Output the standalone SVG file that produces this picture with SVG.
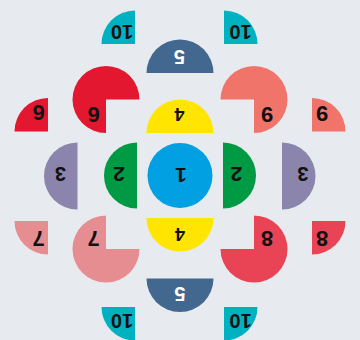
<svg xmlns="http://www.w3.org/2000/svg" width="360" height="340" viewBox="0 0 360 340">
<style>
text{font-family:"Liberation Sans",Arial,sans-serif;font-weight:bold;text-anchor:middle;fill:#111}
.w{fill:#fff}
.blue{fill:#00a0e3}.green{fill:#009a44}.yellow{fill:#ffe500}.purple{fill:#8b85ad}
.slate{fill:#436890}.teal{fill:#00b1c1}.red{fill:#e3172f}.salmon{fill:#f07469}
.pink{fill:#e68d92}.red8{fill:#e94456}
</style>
<rect width="360" height="340" fill="#e7eaee"/>
<g id="connectors"/>
<g id="n1"><circle class="blue" cx="180" cy="175.5" r="32.5"/><text transform="translate(181,175.5) rotate(180)" y="7.6" font-size="21">1</text></g>
<g id="n2-left"><path class="green" d="M137,142.5 A33,33 0 0 0 137,208.5 Z"/><text transform="translate(119,174) rotate(180)" y="7.5" font-size="21">2</text></g>
<g id="n2-right"><path class="green" d="M223,142.5 A33,33 0 0 1 223,208.5 Z"/><text transform="translate(236.5,174) rotate(180)" y="7.5" font-size="21">2</text></g>
<g id="n3-left"><path class="purple" d="M77.5,142.5 A33.5,33.5 0 0 0 77.5,209.5 Z"/><text transform="translate(60.5,174) rotate(180)" y="7.2" font-size="20">3</text></g>
<g id="n3-right"><path class="purple" d="M282,142.5 A33.5,33.5 0 0 1 282,209.5 Z"/><text transform="translate(303,174) rotate(180)" y="7.2" font-size="20">3</text></g>
<g id="n4-top"><path class="yellow" d="M146.5,133 A33.5,33.5 0 0 1 213.5,133 Z"/><text transform="translate(179.5,114) rotate(180)" y="6.5" font-size="18">4</text></g>
<g id="n4-bottom"><path class="yellow" d="M146.5,218 A33.5,33.5 0 0 0 213.5,218 Z"/><text transform="translate(180,234) rotate(180)" y="6.5" font-size="18">4</text></g>
<g id="n5-top"><path class="slate" d="M146.5,73 A33.5,33.5 0 0 1 213.5,73 Z"/><text class="w" transform="translate(179.5,57.5) rotate(180)" y="7.2" font-size="20">5</text></g>
<g id="n5-bottom"><path class="slate" d="M146.5,278.5 A33.5,33.5 0 0 0 213.5,278.5 Z"/><text class="w" transform="translate(180,294) rotate(180)" y="7.2" font-size="20">5</text></g>
<g id="n6-big"><path class="red" d="M106,99.5 L106,133 A33.5,33.5 0 1 1 139.5,99.5 Z"/><text transform="translate(93.5,115) rotate(180)" y="8" font-size="22">6</text></g>
<g id="n6-small"><path class="red" d="M48,131.5 L14.5,131.5 A33.5,33.5 0 0 1 48,98 Z"/><text transform="translate(38.5,113) rotate(180)" y="8" font-size="22">6</text></g>
<g id="n9-big"><path class="salmon" d="M254,99.5 L220.5,99.5 A33.5,33.5 0 1 1 254,133 Z"/><text transform="translate(267,115) rotate(180)" y="8" font-size="22">9</text></g>
<g id="n9-small"><path class="salmon" d="M312,131.5 L312,98 A33.5,33.5 0 0 1 345.5,131.5 Z"/><text transform="translate(322,114) rotate(180)" y="8" font-size="22">9</text></g>
<g id="n7-big"><path class="pink" d="M106,249 L139.5,249 A33.5,33.5 0 1 1 106,215.5 Z"/><text transform="translate(93.5,239) rotate(180)" y="8" font-size="22">7</text></g>
<g id="n7-small"><path class="pink" d="M48,221 L48,254.5 A33.5,33.5 0 0 1 14.5,221 Z"/><text transform="translate(38.5,239) rotate(180)" y="8" font-size="22">7</text></g>
<g id="n8-big"><path class="red8" d="M254,249 L254,215.5 A33.5,33.5 0 1 1 220.5,249 Z"/><text transform="translate(267,239) rotate(180)" y="8" font-size="22">8</text></g>
<g id="n8-small"><path class="red8" d="M312,221 L345.5,221 A33.5,33.5 0 0 1 312,254.5 Z"/><text transform="translate(322,239) rotate(180)" y="8" font-size="22">8</text></g>
<g id="n10-tl"><path class="teal" d="M135,44 L101.5,44 A33.5,33.5 0 0 1 135,10.5 Z"/><text transform="translate(122,32) rotate(180)" y="7.2" font-size="20">10</text></g>
<g id="n10-tr"><path class="teal" d="M224,44 L224,10.5 A33.5,33.5 0 0 1 257.5,44 Z"/><text transform="translate(240.5,32) rotate(180)" y="7.2" font-size="20">10</text></g>
<g id="n10-bl"><path class="teal" d="M135,307 L135,340.5 A33.5,33.5 0 0 1 101.5,307 Z"/><text transform="translate(122,321.5) rotate(180)" y="7.2" font-size="20">10</text></g>
<g id="n10-br"><path class="teal" d="M224,307 L257.5,307 A33.5,33.5 0 0 1 224,340.5 Z"/><text transform="translate(240.5,321.5) rotate(180)" y="7.2" font-size="20">10</text></g>
</svg>
